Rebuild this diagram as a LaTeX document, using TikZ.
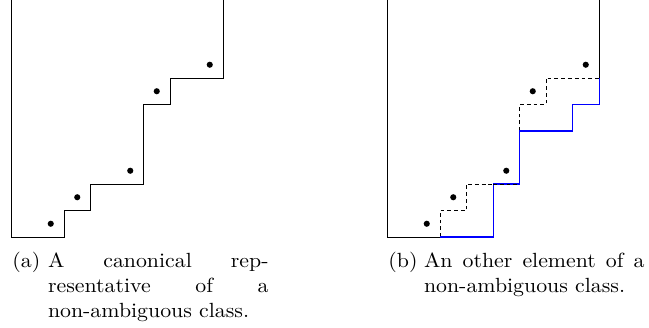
\documentclass[tikz,border=0pt]{standalone}
\begin{document}
\begin{tikzpicture}[x=0.4878pt,y=0.4878pt,
  edge/.style={line width=0.42pt,black},
  dashedge/.style={line width=0.42pt,black,dash pattern=on 1.85pt off 1.45pt},
  blueedge/.style={line width=0.5pt,blue},
  pt/.style={circle,fill=black,inner sep=0pt,minimum size=3pt},
  captxt/.style={inner sep=0pt,xscale=1.065,transform shape,anchor=base west}]
\useasboundingbox (0,0) rectangle (649,327);
% ---------- (a) ----------
\begin{scope}[shift={(11,90)},x=12.927pt,y=12.927pt]
  \coordinate (aT) at (0,8.95);
  \coordinate (aO) at (0,0);
  \coordinate (aE) at (8,8.95);
  \draw[edge] (aT) -- (aO) -- (2,0) -- (2,1) -- (3,1) -- (3,2) -- (5,2) -- (5,5) -- (6,5) -- (6,6) -- (8,6) -- (aE);
  \node[pt] (a1) at (1.5,0.5) {};
  \node[pt] (a2) at (2.5,1.5) {};
  \node[pt] (a3) at (4.5,2.5) {};
  \node[pt] (a4) at (5.5,5.5) {};
  \node[pt] (a5) at (7.5,6.5) {};
\end{scope}
% ---------- (b) ----------
\begin{scope}[shift={(387,90)},x=12.927pt,y=12.927pt]
  \coordinate (bT) at (0,8.95);
  \coordinate (bO) at (0,0);
  \coordinate (bS) at (2,0);
  \coordinate (bF) at (8,6);
  \coordinate (bE) at (8,8.95);
  \draw[edge] (bT) -- (bO) -- (bS);
  \draw[edge] (bF) -- (bE);
  \draw[dashedge] (bS) -- (2,1) -- (3,1) -- (3,2) -- (4,2);
  \draw[dashedge] (5,4) -- (5,5) -- (6,5) -- (6,6) -- (bF);
  \draw[blueedge] (bS) -- (4,0) -- (4,2) -- (5,2) -- (5,4) -- (7,4) -- (7,5) -- (8,5) -- (bF);
  \draw[dashedge] (4,2) -- (5,2);
  \node[pt] (b1) at (1.5,0.5) {};
  \node[pt] (b2) at (2.5,1.5) {};
  \node[pt] (b3) at (4.5,2.5) {};
  \node[pt] (b4) at (5.5,5.5) {};
  \node[pt] (b5) at (7.5,6.5) {};
\end{scope}
% ---------- captions ----------
\node[captxt] (capa) at (12,59) {\makebox[16.3pt][l]{(a)}\parbox[t]{101pt}{A canonical rep-\linebreak resentative of a\linebreak non-ambiguous class.}};
\node[captxt] (capb) at (388,59) {\makebox[16.3pt][l]{(b)}\parbox[t]{101pt}{An other element of a\linebreak non-ambiguous class.}};
\end{tikzpicture}
\end{document}
